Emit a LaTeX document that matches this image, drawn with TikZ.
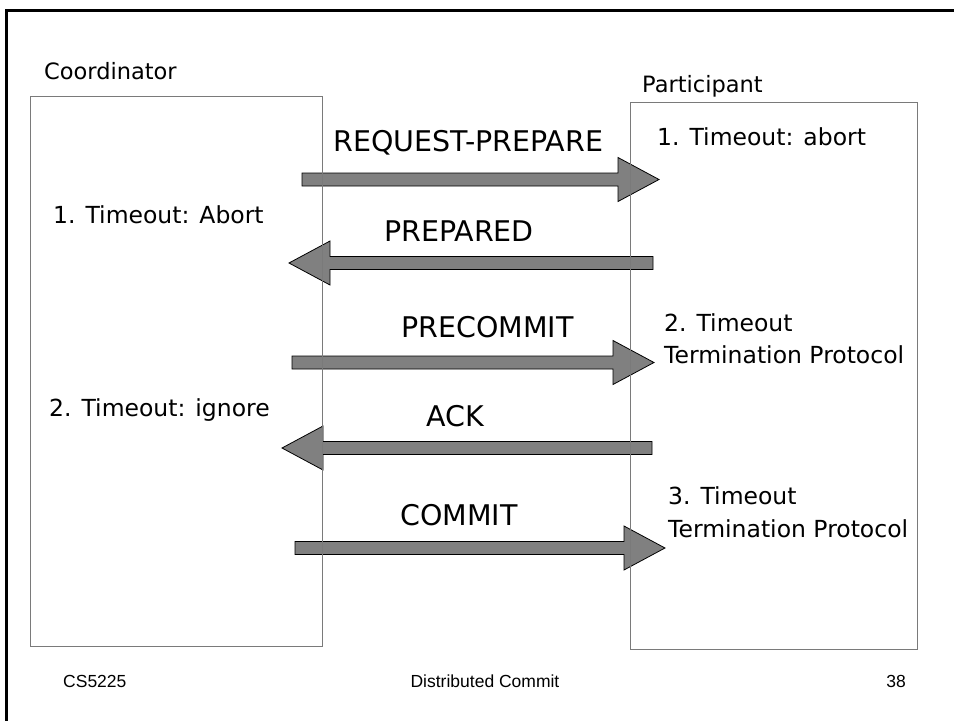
\documentclass[tikz,border=0pt]{standalone}
\usepackage{fontspec}
\setmainfont{DejaVu Sans}
\newfontfamily\footfont{Liberation Sans}
\usetikzlibrary{calc}
\definecolor{arrowgray}{HTML}{808080}
\definecolor{lanegray}{HTML}{7A7A7A}
\tikzset{
  lane/.style={draw=lanegray, line width=1pt, inner sep=0pt},
  title/.style={inner sep=0pt, anchor=base west, font=\fontsize{22.5}{27}\selectfont},
  note/.style={inner sep=0pt, anchor=base west, font=\fontsize{23.5}{28}\selectfont},
  lbl/.style={inner sep=0pt, anchor=base west, font=\fontsize{28.5}{34}\selectfont},
  foot/.style={inner sep=0pt, anchor=base, font=\footfont\fontsize{17.5}{21}\selectfont},
  fat/.style={draw=black, line width=0.8pt, fill=arrowgray, to path={
    ($(\tikztostart)+(0,-6.5)$) -- ($(\tikztotarget)!41pt!(\tikztostart)+(0,-6.5)$)
    -- ($(\tikztotarget)!41pt!(\tikztostart)+(0,-22)$) -- (\tikztotarget)
    -- ($(\tikztotarget)!41pt!(\tikztostart)+(0,22)$)
    -- ($(\tikztotarget)!41pt!(\tikztostart)+(0,6.5)$)
    -- ($(\tikztostart)+(0,6.5)$) -- cycle}}
}
\begin{document}
\begin{tikzpicture}[x=1pt, y=-1pt]
  \useasboundingbox (0,0) rectangle (954,721);
  \draw[line width=3pt] (954,10) -- (6,10) -- (6,721);

  \coordinate (m1s) at (302,179.5);
  \coordinate (m1e) at (659,179.5);
  \coordinate (m2s) at (653,263);
  \coordinate (m2e) at (289,263);
  \coordinate (m3s) at (292,362.5);
  \coordinate (m3e) at (654,362.5);
  \coordinate (m4s) at (652,448);
  \coordinate (m4e) at (282,448);
  \coordinate (m5s) at (295,548);
  \coordinate (m5e) at (665,548);

  \path[fat] (m1s) to (m1e);
  \path[fat] (m2s) to (m2e);
  \path[fat] (m3s) to (m3e);
  \path[fat] (m4s) to (m4e);
  \path[fat] (m5s) to (m5e);

  \node[lane, minimum width=292pt, minimum height=550pt] (coord) at (176,371) {};
  \node[lane, minimum width=287pt, minimum height=547pt] (part) at (773.5,375.5) {};

  \node[title] (tc) at (44,79.5) {Coordinator};
  \node[title] (tp) at (642,92) {Participant};

  \node[lbl] (l1) at (333,151) {REQUEST-PREPARE};
  \node[lbl] (l2) at (384,241) {PREPARED};
  \node[lbl] (l3) at (401,337) {PRECOMMIT};
  \node[lbl] (l4) at (426,426) {ACK};
  \node[lbl] (l5) at (400,525) {COMMIT};

  \node[note] (c1) at (53,223) {1. Timeout: Abort};
  \node[note] (c2) at (49,416) {2. Timeout: ignore};
  \node[note] (p1) at (657,145) {1. Timeout: abort};
  \node[note] (p2) at (664,331) {2. Timeout};
  \node[note] (p2b) at (664,363) {Termination Protocol};
  \node[note] (p3) at (668,504) {3. Timeout};
  \node[note] (p3b) at (668,537) {Termination Protocol};

  \node[foot, anchor=base west] (f1) at (63,687) {CS5225};
  \node[foot] (f2) at (485,687) {Distributed Commit};
  \node[foot, anchor=base east] (f3) at (906,687) {38};
\end{tikzpicture}
\end{document}
